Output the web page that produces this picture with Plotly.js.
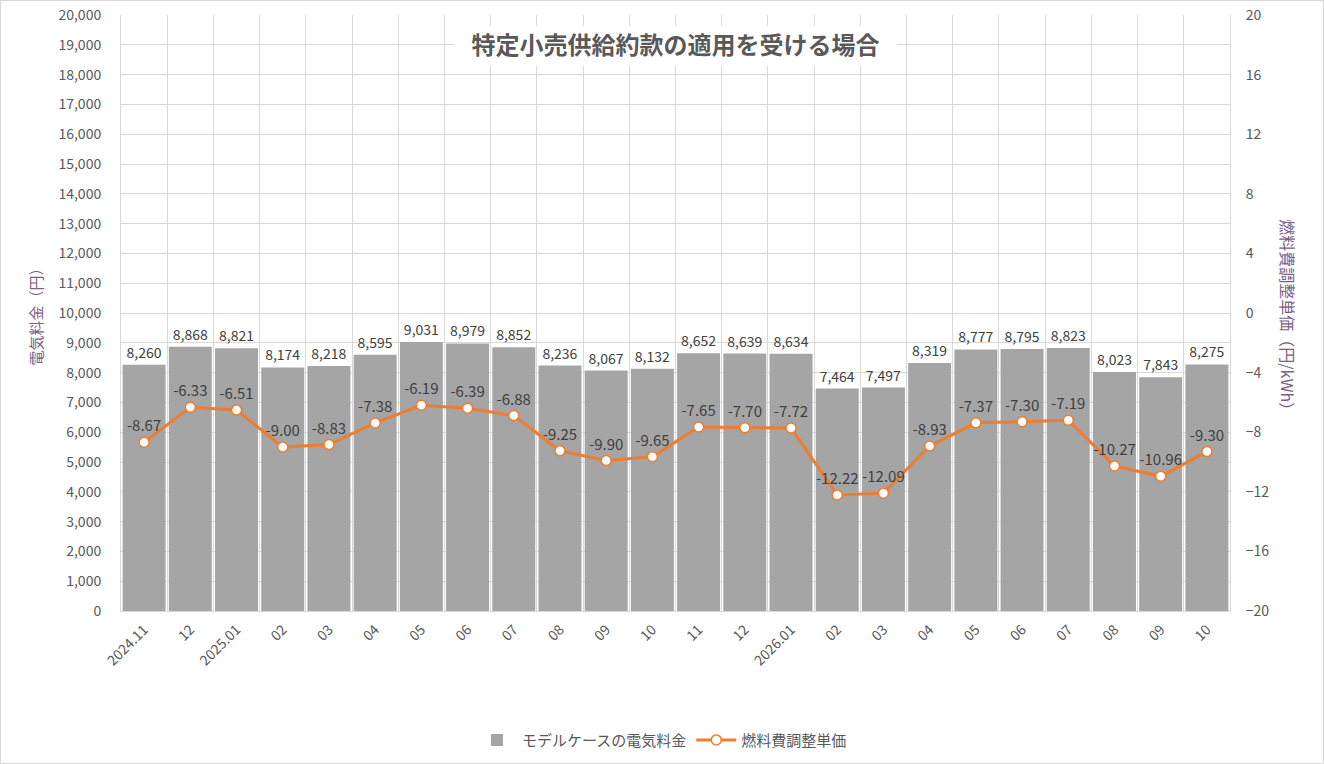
<!DOCTYPE html>
<html>
<head>
<meta charset="utf-8">
<script src="https://cdn.plot.ly/plotly-3.0.1.min.js"></script>
<style>
  html, body { margin: 0; padding: 0; background: #fff; }
  #wrap { width: 1324px; height: 764px; box-sizing: border-box; border: 1px solid #d9d9d9; }
  #chart { width: 1322px; height: 762px; }
</style>
</head>
<body>
<div id="wrap"><div id="chart"></div></div>
<script>
const months = ["2024.11", "12", "2025.01", "02", "03", "04", "05", "06", "07", "08", "09", "10",
  "11", "12", "2026.01", "02", "03", "04", "05", "06", "07", "08", "09", "10"];
const billYen = [8260, 8868, 8821, 8174, 8218, 8595, 9031, 8979, 8852, 8236, 8067, 8132,
  8652, 8639, 8634, 7464, 7497, 8319, 8777, 8795, 8823, 8023, 7843, 8275];
const fuelAdj = [-8.67, -6.33, -6.51, -9.00, -8.83, -7.38, -6.19, -6.39, -6.88, -9.25, -9.90, -9.65,
  -7.65, -7.70, -7.72, -12.22, -12.09, -8.93, -7.37, -7.30, -7.19, -10.27, -10.96, -9.30];

const FONT = '"Noto Sans CJK JP", "Noto Sans", sans-serif';
const idx = months.map((_, i) => i);
const bounds = months.slice(1).map((_, i) => i + 0.5);

const bars = {
  type: "bar",
  name: "モデルケースの電気料金",
  x: idx,
  y: billYen,
  marker: { color: "#a5a5a5" },
  texttemplate: "%{y:,}",
  textposition: "outside",
  textfont: { family: FONT, size: 14, color: "#404040" },
  cliponaxis: false,
  hoverinfo: "skip",
};

const line = {
  type: "scatter",
  mode: "lines+markers+text",
  name: "燃料費調整単価",
  x: idx,
  y: fuelAdj,
  yaxis: "y2",
  line: { color: "#ed7d31", width: 3 },
  marker: { size: 10, color: "#ffffff", line: { color: "#ed7d31", width: 1.5 } },
  text: fuelAdj.map((v) => v.toFixed(2)),
  textposition: "top center",
  textfont: { family: FONT, size: 15, color: "#404040" },
  cliponaxis: false,
};

const layout = {
  width: 1322,
  height: 762,
  margin: { l: 120, r: 93, t: 14, b: 152 },
  paper_bgcolor: "#ffffff",
  plot_bgcolor: "#ffffff",
  font: { family: FONT, size: 14, color: "#595959" },
  bargap: 0.07,
  showlegend: true,
  title: {
    text: "<b>特定小売供給約款の適用を受ける場合</b>",
    font: { family: FONT, size: 24, color: "#595959" },
    xref: "paper", x: 0.5, xanchor: "center",
    yref: "container", y: 0.941, yanchor: "middle",
  },
  xaxis: {
    range: [-0.5, months.length - 0.5],
    tickmode: "array",
    tickvals: idx,
    ticktext: months,
    tickangle: -45,
    tickfont: { family: FONT, size: 14, color: "#595959" },
    showgrid: false,
    minor: { tickmode: "array", tickvals: bounds, showgrid: true, gridcolor: "#d9d9d9", gridwidth: 1, ticks: "" },
    showline: true, linecolor: "#d9d9d9", linewidth: 1,
    zeroline: false,
    ticks: "outside", ticklen: 4, tickcolor: "rgba(0,0,0,0)",
  },
  yaxis: {
    range: [0, 20000],
    dtick: 1000,
    tickformat: ",",
    tickfont: { family: FONT, size: 14, color: "#595959" },
    gridcolor: "#d9d9d9",
    showline: true, linecolor: "#d9d9d9",
    zeroline: false,
    ticks: "outside", ticklen: 16, tickcolor: "rgba(0,0,0,0)",
    title: { text: "電気料金（円）", font: { family: FONT, size: 15, color: "#7a5f86" }, standoff: 12 },
  },
  yaxis2: {
    overlaying: "y",
    side: "right",
    range: [-20, 20],
    dtick: 4,
    tickfont: { family: FONT, size: 14, color: "#595959" },
    showgrid: false,
    zeroline: false,
    showline: true, linecolor: "#d9d9d9",
    ticks: "outside", ticklen: 12, tickcolor: "rgba(0,0,0,0)",
  },
  legend: {
    orientation: "h",
    xref: "container", x: 0.5, xanchor: "center",
    yref: "container", y: 0.03, yanchor: "middle",
    font: { family: FONT, size: 15, color: "#595959" },
    itemwidth: 40,
  },
  shapes: [{
    type: "rect", xref: "paper", yref: "paper",
    x0: 0.3, x1: 0.7, y0: 0.915, y1: 0.982,
    fillcolor: "#ffffff", line: { width: 0 }, layer: "above",
  }],
  annotations: [{
    text: "燃料費調整単価（円/kWh）",
    xref: "paper", yref: "paper", x: 1.052, y: 0.49,
    xanchor: "center", yanchor: "middle",
    textangle: 90, showarrow: false,
    font: { family: FONT, size: 16, color: "#7a5f86" },
  }],
};

Plotly.newPlot("chart", [bars, line], layout, { displayModeBar: false, staticPlot: true });
</script>
</body>
</html>
